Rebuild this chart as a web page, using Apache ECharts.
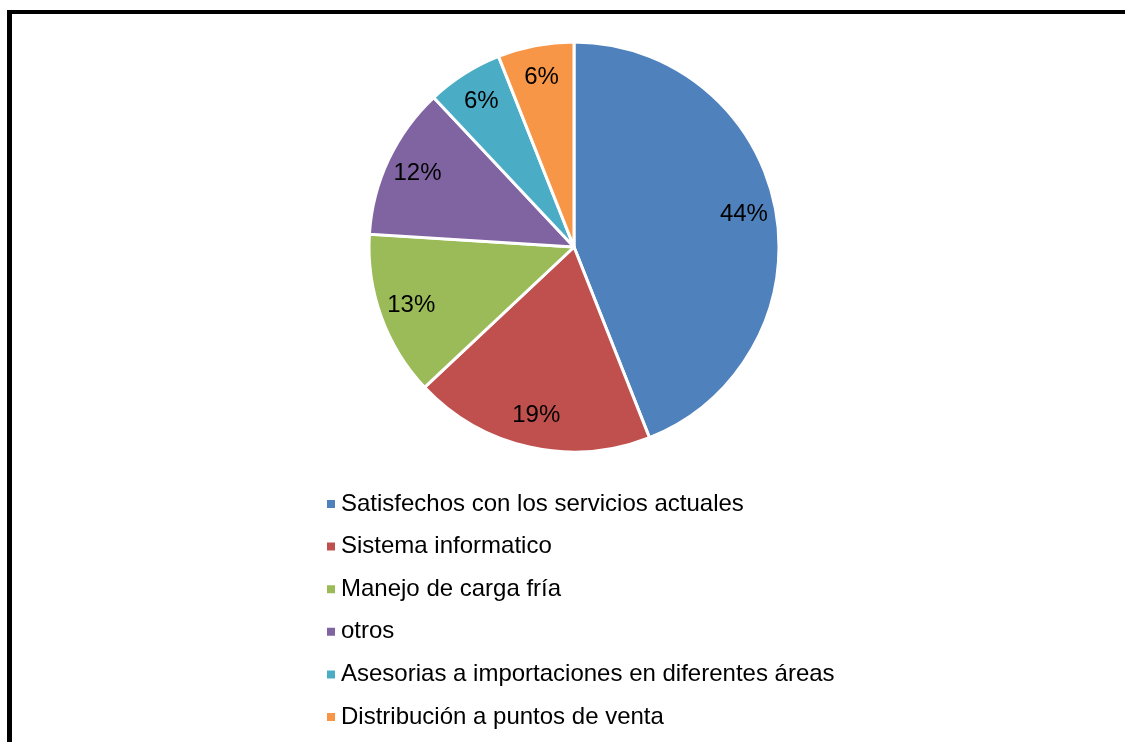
<!DOCTYPE html>
<html>
<head>
<meta charset="utf-8">
<script src="https://cdn.jsdelivr.net/npm/echarts@6/dist/echarts.min.js"></script>
<style>
html,body{margin:0;padding:0;background:#fff;}
#frame{position:absolute;left:7px;top:10px;width:1200px;height:800px;border-top:4px solid #000;border-left:5px solid #000;}
#chart{position:absolute;left:0;top:0;width:1125px;height:742px;}
</style>
</head>
<body>
<div id="frame"></div>
<div id="chart"></div>
<script>
const categories = [
  'Satisfechos con los servicios actuales',
  'Sistema informatico',
  'Manejo de carga fría',
  'otros',
  'Asesorias a importaciones en diferentes áreas',
  'Distribución a puntos de venta'
];
const values = [44, 19, 13, 12, 6, 6];
const colors = ['#4F81BD', '#C0504D', '#9BBB59', '#8064A2', '#4BACC6', '#F79646'];

const data = categories.map((c, i) => ({ name: c, value: values[i], itemStyle: { color: colors[i] } }));
const labelData = categories.map((c, i) => ({ name: c, value: values[i] }));

const chart = echarts.init(document.getElementById('chart'), null, { renderer: 'canvas' });
chart.setOption({
  backgroundColor: 'transparent',
  animation: false,
  legend: {
    orient: 'vertical',
    left: 320,
    top: 487,
    icon: 'rect',
    itemWidth: 10,
    itemHeight: 10,
    itemGap: 18.6,
    itemTextGap: 6,
    data: categories,
    textStyle: { fontFamily: 'Liberation Sans, Arial, sans-serif', fontSize: 24, color: '#000', lineHeight: 24 }
  },
  series: [
    {
      type: 'pie',
      center: [574, 247],
      radius: [0, 205],
      startAngle: 90,
      clockwise: true,
      data: data,
      label: { show: false },
      labelLine: { show: false },
      itemStyle: { borderColor: '#fff', borderWidth: 3 },
      emphasis: { disabled: true }
    },
    {
      type: 'pie',
      center: [574, 247],
      radius: [0, 340],
      startAngle: 90,
      clockwise: true,
      silent: true,
      data: labelData,
      itemStyle: { color: 'rgba(0,0,0,0)' },
      label: {
        show: true,
        position: 'inside',
        formatter: '{c}%',
        fontFamily: 'Liberation Sans, Arial, sans-serif',
        fontSize: 24,
        color: '#000'
      },
      labelLine: { show: false },
      emphasis: { disabled: true }
    }
  ]
});
</script>
</body>
</html>
